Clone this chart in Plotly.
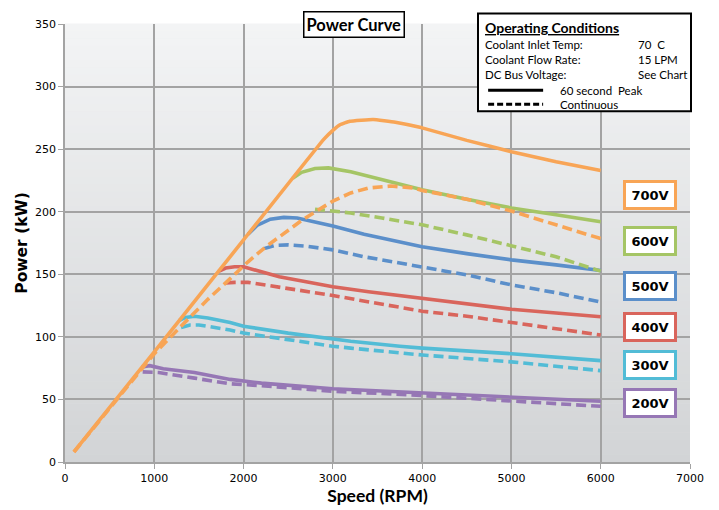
import plotly.graph_objects as go

# ---------------- data ----------------
voltages = ["200V", "300V", "400V", "500V", "600V", "700V"]
colors = ["#9677B5", "#52BCD6", "#D9655C", "#5B8FCA", "#A5C565", "#F8A556"]

# 60 second peak (solid)
peak_rpm = {
    "700V": [100, 1000, 2000, 2900, 3000, 3080, 3190, 3450, 3700, 4000, 4500, 5000, 5500, 6000],
    "600V": [2550, 2650, 2800, 2950, 3200, 3500, 3750, 4000, 4500, 5000, 5500, 6000],
    "500V": [2050, 2150, 2300, 2450, 2600, 2800, 3000, 3350, 3750, 4000, 4500, 5000, 5500, 6000],
    "400V": [1720, 1800, 1900, 2000, 2150, 2400, 2700, 3000, 3400, 3750, 4000, 4500, 5000, 5500, 6000],
    "300V": [1280, 1350, 1450, 1600, 1850, 2000, 2500, 3000, 3200, 3750, 4000, 5000, 6000],
    "200V": [860, 950, 1100, 1450, 1850, 2200, 3000, 3850, 5000, 6000],
}
peak_kw = {
    "700V": [8, 88, 177.5, 258, 265, 269.5, 272.3, 273.7, 271.5, 267, 257, 248, 240, 233],
    "600V": [226.7, 231.5, 234.5, 235, 232, 226.5, 222, 217.5, 210, 203, 197.5, 192],
    "500V": [182, 189, 194, 195.5, 195, 192, 188.5, 182, 175.5, 172, 166.5, 161.5, 157.5, 153],
    "400V": [152.4, 155, 156, 156, 153, 148, 144, 140, 136, 133, 130.5, 126.5, 122, 119, 116],
    "300V": [113.1, 115.5, 116.5, 115, 111.5, 108.5, 103, 98, 96.5, 92.5, 91, 86.5, 81],
    "200V": [76, 77, 74.5, 71.5, 66, 63, 58.5, 55.5, 52, 48.5],
}

# continuous (dashed)
cont_rpm = {
    "700V": [100, 1000, 1300, 1600, 1850, 2050, 2250, 2450, 2650, 2850, 3000, 3200, 3400, 3650, 3900, 4000, 4500, 5000, 5500, 6000],
    "600V": [2800, 2950, 3200, 3550, 3750, 4000, 4500, 5000, 5500, 6000],
    "500V": [2230, 2350, 2500, 2700, 3000, 3350, 3750, 4000, 4500, 5000, 5500, 6000],
    "400V": [1800, 1900, 2050, 2300, 2600, 3000, 3400, 3750, 4000, 4500, 5000, 5500, 6000],
    "300V": [1300, 1400, 1500, 1700, 1850, 2000, 2500, 3000, 3200, 3750, 4000, 5000, 6000],
    "200V": [870, 1050, 1450, 1850, 2200, 3000, 3850, 5000, 6000],
}
cont_kw = {
    "700V": [8, 86.5, 108.5, 130, 146.5, 160, 172, 182.5, 193, 202, 208.5, 215, 219, 220.5, 219, 217, 210, 200.5, 189.5, 178.5],
    "600V": [202, 201, 199, 195, 192.5, 189.5, 181.5, 172.5, 164, 152.5],
    "500V": [170.5, 173, 173.5, 172.5, 169.5, 164, 159, 156, 149.5, 141.5, 135.3, 127.8],
    "400V": [143, 143.5, 143.5, 141, 137.5, 133, 128, 123, 120.5, 116.5, 111.5, 107, 101.5],
    "300V": [107.5, 109.5, 109.5, 107.5, 105.5, 103, 97.5, 92.5, 91, 87, 85.5, 80, 73],
    "200V": [72, 71.5, 67, 62.5, 61, 56.5, 53.7, 48.5, 44.5],
}

x_ticks = [0, 1000, 2000, 3000, 4000, 5000, 6000, 7000]
y_ticks = [0, 50, 100, 150, 200, 250, 300, 350]

conditions = [("Coolant Inlet Temp:", "70  C"),
              ("Coolant Flow Rate:", "15 LPM"),
              ("DC Bus Voltage:", "See Chart")]

# ---------------- figure ----------------
fig = go.Figure()
LW = 3.6
order = ["200V", "300V", "400V", "500V", "600V"]
for v in order:
    c = colors[voltages.index(v)]
    fig.add_trace(go.Scatter(x=cont_rpm[v], y=cont_kw[v], mode="lines",
                             line=dict(color=c, width=LW, dash="10px,5px"),
                             showlegend=False, hoverinfo="skip"))
    fig.add_trace(go.Scatter(x=peak_rpm[v], y=peak_kw[v], mode="lines",
                             line=dict(color=c, width=LW),
                             showlegend=False, hoverinfo="skip"))
c7 = colors[voltages.index("700V")]
fig.add_trace(go.Scatter(x=cont_rpm["700V"], y=cont_kw["700V"], mode="lines",
                         line=dict(color=c7, width=LW, dash="10px,5px"),
                         showlegend=False, hoverinfo="skip"))
fig.add_trace(go.Scatter(x=peak_rpm["700V"], y=peak_kw["700V"], mode="lines",
                         line=dict(color=c7, width=LW, shape="spline", smoothing=0.3),
                         showlegend=False, hoverinfo="skip"))

shapes = []
# gradient background
N = 60
top = (243, 244, 245)
bot = (210, 212, 214)
for i in range(N):
    t = (i + 0.5) / N
    col = tuple(round(top[k] + (bot[k] - top[k]) * t) for k in range(3))
    shapes.append(dict(type="rect", xref="paper", yref="paper",
                       x0=0, x1=1, y0=1 - (i + 1) / N, y1=1 - i / N + 0.001,
                       fillcolor="rgb(%d,%d,%d)" % col, line=dict(width=0), layer="below"))

# operating conditions box
shapes.append(dict(type="rect", xref="paper", yref="paper", x0=0.6608, x1=1.0016,
                   y0=0.8008, y1=1.024, fillcolor="white",
                   line=dict(color="black", width=2), layer="above"))
shapes.append(dict(type="line", xref="paper", yref="paper", x0=0.677, x1=0.765,
                   y0=0.8487, y1=0.8487, line=dict(color="black", width=3), layer="above"))
shapes.append(dict(type="line", xref="paper", yref="paper", x0=0.677, x1=0.765,
                   y0=0.8168, y1=0.8168, line=dict(color="black", width=3, dash="6px,3px"),
                   layer="above"))

annotations = []
FONT = "Lato, Open Sans, sans-serif"
annotations.append(dict(xref="paper", yref="paper", x=0.668, y=0.9923, xanchor="left",
                        yanchor="middle", showarrow=False,
                        text="<b><u>Operating Conditions</u></b>",
                        font=dict(family=FONT, size=14, color="black")))
rows_y = [0.9535, 0.9193, 0.8851]
for (lab, val), yy in zip(conditions, rows_y):
    annotations.append(dict(xref="paper", yref="paper", x=0.668, y=yy, xanchor="left",
                            yanchor="middle", showarrow=False, text=lab,
                            font=dict(family=FONT, size=11.5, color="black")))
    annotations.append(dict(xref="paper", yref="paper", x=0.9136, y=yy, xanchor="left",
                            yanchor="middle", showarrow=False, text=val,
                            font=dict(family=FONT, size=11.5, color="black")))
annotations.append(dict(xref="paper", yref="paper", x=0.789, y=0.8487, xanchor="left",
                        yanchor="middle", showarrow=False, text="60 second  Peak",
                        font=dict(family=FONT, size=11.5, color="black")))
annotations.append(dict(xref="paper", yref="paper", x=0.789, y=0.8168, xanchor="left",
                        yanchor="middle", showarrow=False, text="Continuous",
                        font=dict(family=FONT, size=11.5, color="black")))

# title box
annotations.append(dict(xref="paper", yref="paper", x=0.4624, y=0.998, xanchor="center",
                        yanchor="middle", showarrow=False, text="<b>Power Curve</b>",
                        font=dict(family=FONT, size=16.5, color="black"),
                        bgcolor="white", bordercolor="black", borderwidth=1.5, borderpad=2))

# voltage label boxes
label_y = {"700V": 0.6104, "600V": 0.5056, "500V": 0.4007,
           "400V": 0.3073, "300V": 0.2207, "200V": 0.1352}
for v in voltages:
    annotations.append(dict(xref="paper", yref="paper", x=0.936, y=label_y[v],
                            xanchor="center", yanchor="middle", showarrow=False,
                            text="<b>%s</b>" % v, width=44, height=20,
                            font=dict(family="DejaVu Sans", size=13, color="black"),
                            bgcolor="white", bordercolor=colors[voltages.index(v)],
                            borderwidth=3, borderpad=2))

# the page adds an 8px body margin, so the figure is 8px smaller than the window
fig.update_layout(
    width=711, height=502,
    margin=dict(l=57, r=29, t=16, b=48),
    paper_bgcolor="white",
    plot_bgcolor="#e5e6e8",
    shapes=shapes,
    annotations=annotations,
    showlegend=False,
    xaxis=dict(range=[0, 7000], tickvals=x_ticks, ticktext=[str(v) for v in x_ticks],
               showgrid=True, gridcolor="#a3a3a3", gridwidth=1.5, automargin=False,
               showline=True, linecolor="#a3a3a3", linewidth=1.5,
               ticks="outside", ticklen=5, tickcolor="#a3a3a3", zeroline=False,
               tickfont=dict(family="DejaVu Sans", size=11, color="black"),
               title=dict(text="<b>Speed (RPM)</b>", standoff=4,
                          font=dict(family=FONT, size=17.5, color="black"))),
    yaxis=dict(range=[0, 350], tickvals=y_ticks, ticktext=[str(v) for v in y_ticks],
               showgrid=True, gridcolor="#a3a3a3", gridwidth=1.5, automargin=False,
               showline=True, linecolor="#a3a3a3", linewidth=1.5,
               ticks="outside", ticklen=5, tickcolor="#a3a3a3", zeroline=False,
               tickfont=dict(family="DejaVu Sans", size=11, color="black"),
               title=dict(text="<b>Power (kW)</b>", standoff=4,
                          font=dict(family="DejaVu Sans", size=15.5, color="black"))),
)

fig.write_html("out.html")
